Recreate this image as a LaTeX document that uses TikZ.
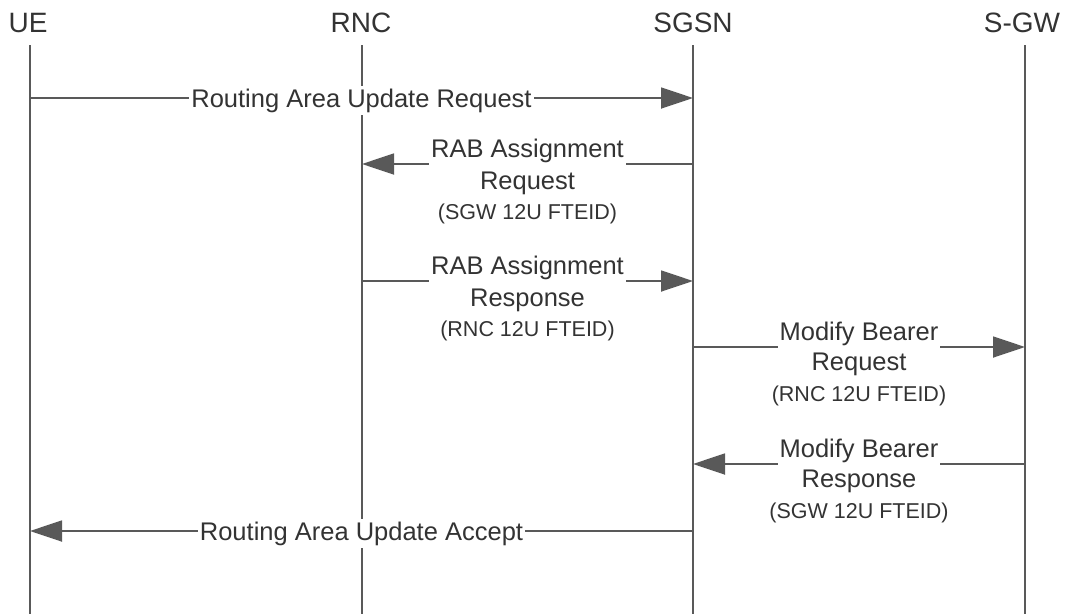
\documentclass[tikz,border=0pt]{standalone}
\usepackage{fontspec}
\setmainfont{Liberation Sans}
\usetikzlibrary{arrows.meta, calc}
\definecolor{linegray}{HTML}{595959}
\definecolor{textgray}{HTML}{333333}
\tikzstyle{entity}=[
  inner sep=0pt,
  anchor=base,
  text=textgray,
  font={\fontsize{28}{30}\selectfont}
]
\tikzstyle{lifeline}=[draw=linegray, line width=1.8pt]
\tikzstyle{msg}=[
  draw=linegray,
  line width=1.8pt,
  -{Triangle[length=32pt, width=21pt]}
]
\tikzstyle{lbl}=[
  fill=white,
  inner xsep=2pt,
  inner ysep=3pt,
  anchor=base,
  text=textgray,
  font={\fontsize{25.5}{28}\selectfont}
]
\tikzstyle{sub}=[
  inner sep=0pt,
  anchor=base,
  text=textgray,
  font={\fontsize{25.5}{28}\selectfont}
]
\tikzstyle{fteid}=[
  inner sep=0pt,
  anchor=base,
  text=textgray,
  font={\fontsize{21.5}{24}\selectfont}
]

\begin{document}
\begin{tikzpicture}[x=1pt, y=-1pt]

\useasboundingbox (0,0) rectangle (1071,614); %% margins

\newcommand\TOP{45}
\newcommand\BOT{614}

\node[entity] (ue)   at (28,32)   {UE};
\node[entity] (rnc)  at (361,32)  {RNC};
\node[entity] (sgsn) at (693,32)  {SGSN};
\node[entity] (sgw)  at (1022,32) {S-GW};

\coordinate (ueTop)   at (30,\TOP);   \coordinate (ueBot)   at (30,\BOT);
\coordinate (rncTop)  at (362,\TOP);  \coordinate (rncBot)  at (362,\BOT);
\coordinate (sgsnTop) at (693,\TOP);  \coordinate (sgsnBot) at (693,\BOT);
\coordinate (sgwTop)  at (1025,\TOP); \coordinate (sgwBot)  at (1025,\BOT);

\draw[lifeline] (ueTop) -- (ueBot);
\draw[lifeline] (rncTop) -- (rncBot);
\draw[lifeline] (sgsnTop) -- (sgsnBot);
\draw[lifeline] (sgwTop) -- (sgwBot);
%%

\draw[msg] (ueTop |- 0,98) -- node[lbl, yshift=-9pt] (rauReq) {Routing Area Update Request} (sgsnTop |- 0,98);

%%
\draw[msg] (sgsnTop |- 0,164) -- node[lbl, yshift=7pt] (rabReq) {RAB Assignment} (rncTop |- 0,164);
\node[sub] (rabReqB) at ([yshift=-32pt]rabReq.base) {Request};
\node[fteid] (rabReqC) at ([yshift=-30pt]rabReqB.base) {(SGW 12U FTEID)};

%%
\draw[msg] (rncTop |- 0,281) -- node[lbl, yshift=7pt] (rabRsp) {RAB Assignment} (sgsnTop |- 0,281);
\node[sub] (rabRspB) at ([yshift=-32pt]rabRsp.base) {Response};
\node[fteid] (rabRspC) at ([yshift=-30pt]rabRspB.base) {(RNC 12U FTEID)};

%%
\draw[msg] (sgsnTop |- 0,347) -- node[lbl, yshift=7pt] (mbReq) {Modify Bearer} (sgwTop |- 0,347);
\node[sub] (mbReqB) at ([yshift=-30pt]mbReq.base) {Request};
\node[fteid] (mbReqC) at ([yshift=-31pt]mbReqB.base) {(RNC 12U FTEID)};

%%
\draw[msg] (sgwTop |- 0,464) -- node[lbl, yshift=7pt] (mbRsp) {Modify Bearer} (sgsnTop |- 0,464);
\node[sub] (mbRspB) at ([yshift=-30pt]mbRsp.base) {Response};
\node[fteid] (mbRspC) at ([yshift=-31pt]mbRspB.base) {(SGW 12U FTEID)};

%%
\draw[msg] (sgsnTop |- 0,531) -- node[lbl, yshift=-9pt] (rauAcc) {Routing Area Update Accept} (ueTop |- 0,531);

\end{tikzpicture}
\end{document}
